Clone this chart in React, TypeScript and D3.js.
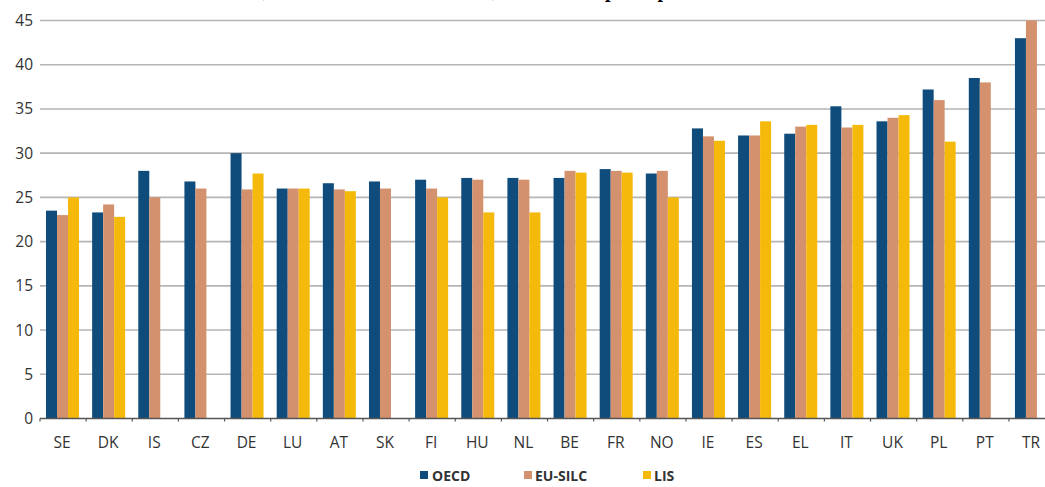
import React from "react";
import * as d3 from "d3";

// Gini coefficients by country and data source
const countries = ["SE", "DK", "IS", "CZ", "DE", "LU", "AT", "SK", "FI", "HU", "NL", "BE", "FR", "NO", "IE", "ES", "EL", "IT", "UK", "PL", "PT", "TR"];
const seriesNames = ["OECD", "EU-SILC", "LIS"];
const oecd = [23.5, 23.3, 28.0, 26.8, 30.0, 26.0, 26.6, 26.8, 27.0, 27.2, 27.2, 27.2, 28.2, 27.7, 32.8, 32.0, 32.2, 35.3, 33.6, 37.2, 38.5, 43.0];
const euSilc = [23.0, 24.2, 25.0, 26.0, 25.9, 26.0, 25.9, 26.0, 26.0, 27.0, 27.0, 28.0, 28.0, 28.0, 31.9, 32.0, 33.0, 32.9, 34.0, 36.0, 38.0, 45.0];
const lis: (number | null)[] = [25.0, 22.8, null, null, 27.7, 26.0, 25.7, null, 25.0, 23.3, 23.3, 27.8, 27.8, 25.0, 31.4, 33.6, 33.2, 33.2, 34.3, 31.3, null, null];
const yTicks = [0, 5, 10, 15, 20, 25, 30, 35, 40, 45];

const colors: Record<string, string> = {
  OECD: "#0f4c7b",
  "EU-SILC": "#d4916e",
  LIS: "#f5b90b",
};

const W = 1045;
const H = 487;
const step = 46.14;

export default function App() {
  const x0 = d3.scaleBand<string>().domain(countries).range([40, 40 + step * countries.length]).padding(0);
  const x1 = d3.scaleBand<string>().domain(seriesNames).range([6, 39]).padding(0);
  const y = d3.scaleLinear().domain([0, 45]).range([418.5, 20.5]);

  const values: Record<string, (number | null)[]> = {
    OECD: oecd,
    "EU-SILC": euSilc,
    LIS: lis,
  };

  const sans = "'Open Sans', sans-serif";
  const legendItems = [
    { name: "OECD", sq: 420, tx: 432 },
    { name: "EU-SILC", sq: 524, tx: 535 },
    { name: "LIS", sq: 643, tx: 654 },
  ];

  return (
    <svg
      width={W}
      height={H}
      style={{ position: "absolute", left: 0, top: 0, background: "#fff" }}
    >
      {/* heading line, mostly above the top edge */}
      <g fontFamily="'Liberation Serif', serif" fontWeight="bold" fontSize={20} fill="#000">
        <text x={268} y={-3.5} textAnchor="end">Gini coefficients,</text>
        <text x={497} y={-3.5} textAnchor="end">three data sources,</text>
        <text x={605} y={-3.5}>per capita income</text>
      </g>

      {/* gridlines */}
      {yTicks.filter((t) => t > 0).map((t) => (
        <line key={t} x1={40} x2={W} y1={y(t)} y2={y(t)} stroke="#b5b5b5" strokeWidth={1.6} />
      ))}

      {/* y tick labels */}
      {yTicks.map((t) => (
        <text key={t} x={33} y={y(t) + 5.5} textAnchor="end" fontFamily={sans} fontSize={15.5} fill="#333">
          {t}
        </text>
      ))}

      {/* bars */}
      {countries.map((c, i) => (
        <g key={c} transform={`translate(${x0(c)},0)`}>
          {seriesNames.map((s) => {
            const v = values[s][i];
            if (v == null) return null;
            return (
              <rect
                key={s}
                x={x1(s)}
                y={y(v)}
                width={x1.bandwidth()}
                height={y(0) - y(v)}
                fill={colors[s]}
              />
            );
          })}
        </g>
      ))}

      {/* x axis */}
      <line x1={40} x2={W} y1={y(0)} y2={y(0)} stroke="#555" strokeWidth={1.5} />
      {countries.map((c) => (
        <line key={c} x1={x0(c)!} x2={x0(c)!} y1={y(0)} y2={y(0) + 3} stroke="#555" strokeWidth={1.2} />
      ))}
      {countries.map((c) => (
        <text
          key={c}
          x={(x0(c) as number) + 22}
          y={448}
          textAnchor="middle"
          fontFamily={sans}
          fontSize={15.5}
          fill="#333"
        >
          {c}
        </text>
      ))}

      {/* legend */}
      {legendItems.map((d) => (
        <g key={d.name}>
          <rect x={d.sq} y={471} width={8} height={8} fill={colors[d.name]} />
          <text x={d.tx} y={481} fontFamily={sans} fontWeight="bold" fontSize={14} fill="#333">
            {d.name}
          </text>
        </g>
      ))}
    </svg>
  );
}
